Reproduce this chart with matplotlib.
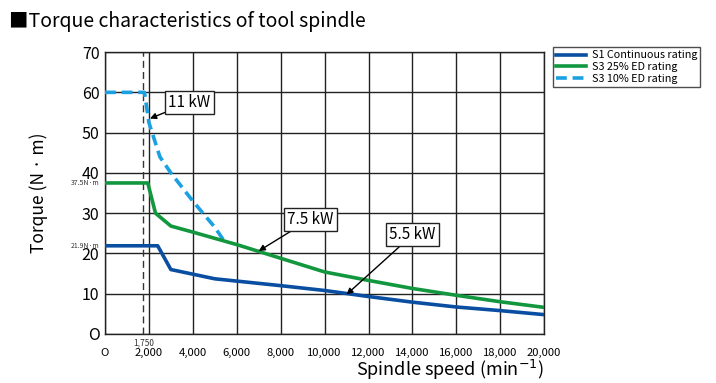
import numpy as np
import matplotlib.pyplot as plt

plt.rcParams['font.family'] = ['Noto Sans CJK JP', 'DejaVu Sans']

# S1 continuous rating
s1_speed = [0, 2400, 3000, 5000, 8000, 10000, 12000, 14000, 16000, 18000, 20000]
s1_torque = [21.9, 21.9, 16.0, 13.7, 12.0, 10.8, 9.3, 7.9, 6.7, 5.8, 4.8]
# S3 25% ED rating
s25_speed = [0, 1950, 2300, 3000, 4000, 6000, 7000, 10000, 12000, 14000, 16000, 18000, 20000]
s25_torque = [37.5, 37.5, 30.0, 26.8, 25.3, 22.2, 20.5, 15.4, 13.3, 11.3, 9.6, 8.0, 6.6]
# S3 10% ED rating
s10_speed = [0, 1800, 2000, 2500, 3000, 4000, 5000, 5500]
s10_torque = [60, 60, 52.5, 44, 40, 33, 26.5, 22.5]

x_ticks = [0, 2000, 4000, 6000, 8000, 10000, 12000, 14000, 16000, 18000, 20000]
x_labels = ['O', '2,000', '4,000', '6,000', '8,000', '10,000', '12,000', '14,000',
            '16,000', '18,000', '20,000']
y_ticks = [0, 10, 20, 30, 40, 50, 60, 70]
y_labels = ['O', '10', '20', '30', '40', '50', '60', '70']

fig = plt.figure(figsize=(7.16, 3.83), dpi=100)
ax = fig.add_axes([0.1466, 0.128, 0.6135, 0.736])

ax.plot(s10_speed, s10_torque, color='#1ba1e2', lw=2.6, ls=(0, (3, 1.6)), label='S3 10% ED rating', zorder=3)
ax.plot(s25_speed, s25_torque, color='#12973e', lw=2.6, label='S3 25% ED rating', zorder=4)
ax.plot(s1_speed, s1_torque, color='#0a4ea2', lw=2.6, label='S1 Continuous rating', zorder=4)

ax.axvline(1750, color='#333333', lw=1, ls=(0, (5, 3)), zorder=2)

ax.set_xlim(0, 20000)
ax.set_ylim(0, 70)
ax.set_xticks(x_ticks)
ax.set_xticklabels(x_labels, fontsize=8.1)
ax.set_yticks(y_ticks)
ax.set_yticklabels(y_labels, fontsize=11.5)
ax.tick_params(length=0, pad=4)
ax.tick_params(axis='x', pad=10)
ax.grid(True, color='#222222', lw=1)
for sp in ax.spines.values():
    sp.set_color('#222222')
    sp.set_linewidth(1)

# small extra labels
ax.text(-250, 37.5, '37.5N·m', fontsize=5, ha='right', va='center', color='#333333')
ax.text(-250, 21.9, '21.9N·m', fontsize=5, ha='right', va='center', color='#333333')
ax.text(1750, -1.2, '1,750', fontsize=6, ha='center', va='top', color='#333333')

ax.set_ylabel('Torque (N · m)', fontsize=12.5, labelpad=24)
ax.set_xlabel(r'Spindle speed (min$^{-1}$)', fontsize=13, loc='right', labelpad=0)

box = dict(boxstyle='square,pad=0.2', fc='white', ec='#222222', lw=1)
arr = dict(arrowstyle='-|>', color='black', lw=1, mutation_scale=9, shrinkA=0, shrinkB=0)
ax.annotate('11 kW', xy=(2050, 53.5), xytext=(3850, 57.5), fontsize=11, ha='center', va='center',
            bbox=box, arrowprops=arr, zorder=6)
ax.annotate('7.5 kW', xy=(7000, 20.6), xytext=(9350, 28.5), fontsize=11, ha='center', va='center',
            bbox=box, arrowprops=arr, zorder=6)
ax.annotate('5.5 kW', xy=(11000, 9.8), xytext=(14000, 24.6), fontsize=11, ha='center', va='center',
            bbox=box, arrowprops=arr, zorder=6)

h, l = ax.get_legend_handles_labels()
leg = fig.legend(h[::-1], l[::-1], loc='upper left', bbox_to_anchor=(0.772, 0.877), fontsize=7.8,
                 frameon=True, fancybox=False, edgecolor='#222222', handlelength=2.8,
                 borderpad=0.3, labelspacing=0.15, handletextpad=0.5, borderaxespad=0)
leg.get_frame().set_linewidth(1)

fig.text(0.012, 0.945, '■Torque characteristics of tool spindle', fontsize=14, va='center', ha='left')

fig.savefig('out.png', dpi=100)
